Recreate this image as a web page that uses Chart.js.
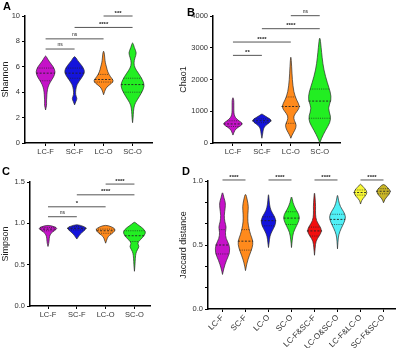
<!DOCTYPE html>
<html lang="en">
<head>
<meta charset="UTF-8">
<title>Alpha / beta diversity violins</title>
<script src="https://cdn.jsdelivr.net/npm/chart.js"></script>
<style>
    body { margin: 0; background: #fff; }
    #fig { position: relative; width: 400px; height: 348px; overflow: hidden; }
    canvas { position: absolute; }
    .letter { position: absolute; font: bold 11px "Liberation Sans", Arial, sans-serif; color: #000; }
</style>
</head>
<body>
<div id="fig">
    <canvas id="chartA" width="200" height="174" style="left:0;top:0"></canvas>
    <canvas id="chartB" width="230" height="174" style="left:170px;top:0"></canvas>
    <canvas id="chartC" width="200" height="174" style="left:0;top:174px"></canvas>
    <canvas id="chartD" width="230" height="174" style="left:170px;top:174px"></canvas>
    <div class="letter" style="left:3px;top:0px">A</div>
    <div class="letter" style="left:187px;top:6px">B</div>
    <div class="letter" style="left:2px;top:165px">C</div>
    <div class="letter" style="left:182px;top:165px">D</div>
</div>

<script>
// ---- data ----
// each violin is a list of [value, half width in category units]
const groupCats = ['LC-F', 'SC-F', 'LC-O', 'SC-O'];
const groupColors = ['#C512C8', '#1414DC', '#FF8A1C', '#22EE22'];

const shannonTicks = [0, 2, 4, 6, 8, 10];
const shannonShapes = [
    [[2.6, 0], [3.0, 0.04], [3.2, 0.03], [3.6, 0.04], [4.0, 0.05], [4.4, 0.08], [4.8, 0.16], [5.2, 0.28], [5.6, 0.34], [6.0, 0.27], [6.4, 0.13], [6.7, 0.05], [6.9, 0]],
    [[3.0, 0], [3.3, 0.05], [3.5, 0.09], [3.8, 0.03], [4.2, 0.04], [4.6, 0.08], [5.0, 0.2], [5.4, 0.32], [5.7, 0.35], [6.1, 0.25], [6.5, 0.1], [6.9, 0]],
    [[3.8, 0], [4.1, 0.04], [4.4, 0.1], [4.7, 0.28], [4.9, 0.35], [5.2, 0.24], [5.6, 0.14], [6.0, 0.1], [6.3, 0.06], [6.7, 0.04], [7.0, 0.03], [7.3, 0]],
    [[1.6, 0], [2.0, 0.02], [2.5, 0.03], [3.0, 0.06], [3.4, 0.16], [3.9, 0.3], [4.5, 0.42], [5.0, 0.34], [5.5, 0.2], [5.9, 0.08], [6.3, 0.04], [6.7, 0.08], [7.1, 0.14], [7.5, 0.06], [8.0, 0]]
];
const shannonMedian = [5.5, 5.5, 5.0, 4.6];
const shannonQ1 = [4.9, 5.1, 4.8, 4.0];
const shannonQ3 = [5.9, 5.9, 5.4, 5.1];
const shannonSig = [[0, 1, 7.4, 'ns'], [0, 2, 8.2, 'ns'], [1, 3, 9.1, '****'], [2, 3, 10.0, '***']];

const chaoTicks = [0, 1000, 2000, 3000, 4000];
const chaoShapes = [
    [[250, 0], [350, 0.04], [450, 0.1], [550, 0.28], [620, 0.34], [700, 0.2], [800, 0.08], [900, 0.04], [1000, 0.03], [1200, 0.03], [1350, 0.03], [1450, 0]],
    [[150, 0], [300, 0.03], [450, 0.05], [550, 0.12], [650, 0.28], [720, 0.34], [800, 0.2], [880, 0.06], [920, 0]],
    [[150, 0], [250, 0.04], [400, 0.14], [560, 0.2], [700, 0.12], [850, 0.09], [1000, 0.22], [1150, 0.32], [1350, 0.2], [1600, 0.1], [2000, 0.05], [2400, 0.03], [2800, 0]],
    [[0, 0], [150, 0.06], [400, 0.2], [650, 0.36], [850, 0.38], [1100, 0.28], [1350, 0.4], [1600, 0.37], [1900, 0.26], [2300, 0.14], [2700, 0.08], [3000, 0.05], [3400, 0]]
];
const chaoMedian = [600, 700, 1150, 1320];
const chaoQ1 = [520, 640, 620, 780];
const chaoQ3 = [700, 760, 1450, 1700];
const chaoSig = [[0, 1, 2760, '**'], [0, 2, 3180, '****'], [1, 3, 3600, '****'], [2, 3, 4010, 'ns']];

const simpsonTicks = [0, 0.5, 1.0, 1.5];
const simpsonShapes = [
    [[0.72, 0], [0.76, 0.03], [0.8, 0.04], [0.84, 0.05], [0.88, 0.1], [0.91, 0.22], [0.94, 0.33], [0.96, 0.22], [0.98, 0]],
    [[0.81, 0], [0.84, 0.06], [0.87, 0.12], [0.9, 0.22], [0.94, 0.34], [0.96, 0.26], [0.99, 0]],
    [[0.76, 0], [0.8, 0.04], [0.84, 0.08], [0.87, 0.2], [0.9, 0.3], [0.93, 0.34], [0.96, 0.2], [0.98, 0]],
    [[0.42, 0], [0.5, 0.02], [0.58, 0.03], [0.64, 0.05], [0.68, 0.1], [0.72, 0.17], [0.76, 0.1], [0.8, 0.2], [0.85, 0.34], [0.9, 0.4], [0.95, 0.26], [0.99, 0.09], [1.02, 0]]
];
const simpsonMedian = [0.93, 0.94, 0.91, 0.85];
const simpsonQ1 = [0.91, 0.92, 0.88, 0.78];
const simpsonQ3 = [0.95, 0.96, 0.93, 0.91];
const simpsonSig = [[0, 1, 1.08, 'ns'], [0, 2, 1.2, '*'], [1, 3, 1.345, '****'], [2, 3, 1.475, '****']];

const jaccardCats = ['LC-F', 'SC-F', 'LC-O', 'SC-O', 'LC-F&SC-F', 'LC-O&SC-O', 'LC-F&LC-O', 'SC-F&SC-O'];
const jaccardColors = ['#C512C8', '#FF8A1C', '#1414DC', '#22EE22', '#F20F0F', '#50F0F6', '#F8F835', '#C9B526'];
const jaccardTicks = [0, 1 / 6, 2 / 6, 0.5, 4 / 6, 5 / 6, 1.0];
const jaccardShapes = [
    [[0.27, 0], [0.32, 0.06], [0.38, 0.17], [0.44, 0.32], [0.5, 0.3], [0.55, 0.15], [0.6, 0.12], [0.64, 0.17], [0.68, 0.1], [0.73, 0.07], [0.79, 0.12], [0.83, 0.13], [0.87, 0.06], [0.92, 0]],
    [[0.3, 0], [0.36, 0.06], [0.42, 0.17], [0.48, 0.3], [0.53, 0.33], [0.58, 0.22], [0.63, 0.15], [0.68, 0.1], [0.74, 0.1], [0.8, 0.13], [0.85, 0.08], [0.91, 0]],
    [[0.48, 0], [0.52, 0.03], [0.57, 0.06], [0.61, 0.16], [0.65, 0.28], [0.69, 0.33], [0.73, 0.24], [0.77, 0.1], [0.82, 0.04], [0.87, 0.02], [0.9, 0]],
    [[0.48, 0], [0.54, 0.03], [0.6, 0.08], [0.65, 0.22], [0.7, 0.35], [0.74, 0.32], [0.78, 0.18], [0.83, 0.06], [0.89, 0]],
    [[0.42, 0], [0.48, 0.03], [0.53, 0.06], [0.57, 0.2], [0.61, 0.33], [0.65, 0.22], [0.69, 0.08], [0.74, 0.04], [0.8, 0.05], [0.86, 0.03], [0.92, 0]],
    [[0.47, 0], [0.53, 0.02], [0.58, 0.05], [0.63, 0.16], [0.68, 0.3], [0.72, 0.36], [0.76, 0.27], [0.8, 0.12], [0.85, 0.04], [0.9, 0]],
    [[0.82, 0], [0.85, 0.04], [0.88, 0.2], [0.91, 0.3], [0.94, 0.2], [0.96, 0.08], [0.98, 0]],
    [[0.83, 0], [0.86, 0.06], [0.89, 0.22], [0.92, 0.32], [0.95, 0.18], [0.98, 0]]
];
const jaccardMedian = [0.5, 0.53, 0.69, 0.71, 0.61, 0.7, 0.91, 0.92];
const jaccardQ1 = [0.43, 0.46, 0.65, 0.66, 0.57, 0.66, 0.89, 0.9];
const jaccardQ3 = [0.62, 0.62, 0.72, 0.76, 0.64, 0.74, 0.93, 0.94];
const jaccardSig = [[0, 1, 1.008, '****'], [2, 3, 1.008, '****'], [4, 5, 1.008, '****'], [6, 7, 1.008, '****']];

// ---- drawing ----
const FONT = '"Liberation Sans", Arial, sans-serif';

function widthAt(shape, v) {
    for (let i = 0; i < shape.length - 1; i++) {
        const a = shape[i], b = shape[i + 1];
        if (v >= a[0] && v <= b[0]) {
            return a[1] + (b[1] - a[1]) * (v - a[0]) / (b[0] - a[0]);
        }
    }
    return 0;
}

function smoothPath(ctx, pts) {
    ctx.moveTo(pts[0][0], pts[0][1]);
    for (let i = 1; i < pts.length - 1; i++) {
        const mx = (pts[i][0] + pts[i + 1][0]) / 2;
        const my = (pts[i][1] + pts[i + 1][1]) / 2;
        ctx.quadraticCurveTo(pts[i][0], pts[i][1], mx, my);
    }
    const last = pts[pts.length - 1];
    ctx.lineTo(last[0], last[1]);
}

const violinPlugin = {
    id: 'violins',
    afterDatasetsDraw(chart) {
        const p = chart.options.plugins.violins;
        const ctx = chart.ctx;
        const x = chart.scales.x, y = chart.scales.y;
        ctx.save();

        p.shapes.forEach((shape, i) => {
            const cx = x.getPixelForValue(i);
            const unit = x.getPixelForValue(i + 1) - cx;
            const right = shape.map(s => [cx + s[1] * unit, y.getPixelForValue(s[0])]);
            const left = shape.slice(0, -1).reverse().map(s => [cx - s[1] * unit, y.getPixelForValue(s[0])]);
            ctx.beginPath();
            smoothPath(ctx, right.concat(left));
            ctx.closePath();
            ctx.fillStyle = p.colors[i];
            ctx.fill();
            ctx.strokeStyle = '#2a2a2a';
            ctx.lineWidth = 0.7;
            ctx.stroke();

            // median and quartiles
            const lines = [[p.median[i], [2, 1.5], 0.9], [p.q1[i], [1, 1.2], 0.7], [p.q3[i], [1, 1.2], 0.7]];
            lines.forEach(([v, dash, lw]) => {
                const w = widthAt(shape, v) * unit;
                const py = y.getPixelForValue(v);
                ctx.beginPath();
                ctx.setLineDash(dash);
                ctx.lineWidth = lw;
                ctx.strokeStyle = '#222';
                ctx.moveTo(cx - w, py);
                ctx.lineTo(cx + w, py);
                ctx.stroke();
            });
            ctx.setLineDash([]);
        });

        // significance brackets
        p.sig.forEach(([a, b, v, label]) => {
            const x1 = x.getPixelForValue(a), x2 = x.getPixelForValue(b);
            const py = y.getPixelForValue(v);
            ctx.beginPath();
            ctx.strokeStyle = '#555';
            ctx.lineWidth = 1;
            ctx.moveTo(x1, py);
            ctx.lineTo(x2, py);
            ctx.stroke();
            ctx.fillStyle = '#222';
            ctx.textAlign = 'center';
            ctx.textBaseline = 'bottom';
            ctx.font = label === 'ns' ? '5px ' + FONT : 'bold 6px ' + FONT;
            ctx.fillText(label, (x1 + x2) / 2, py - (label === 'ns' ? 1.5 : 0));
        });
        ctx.restore();
    }
};

function makePanel(id, p) {
    return new Chart(document.getElementById(id), {
        type: 'scatter',
        data: {
            datasets: [{ data: p.median.map((m, i) => ({ x: i, y: m })), pointRadius: 0 }]
        },
        options: {
            responsive: false,
            animation: false,
            devicePixelRatio: 1,
            layout: { padding: p.padding },
            plugins: { legend: { display: false }, tooltip: { enabled: false }, violins: p },
            scales: {
                x: {
                    type: 'linear',
                    min: p.xMin,
                    max: p.xMax,
                    afterBuildTicks: s => { s.ticks = p.cats.map((c, i) => ({ value: i })); },
                    afterFit: s => { s.height = p.xH; },
                    ticks: {
                        callback: v => p.cats[v],
                        autoSkip: false,
                        maxRotation: p.rot,
                        minRotation: p.rot,
                        padding: 1,
                        color: '#333',
                        font: { family: FONT, size: p.xFont }
                    },
                    grid: { drawOnChartArea: false, drawTicks: true, tickLength: 3, color: '#000', lineWidth: 1 },
                    border: { display: true, color: '#000', width: 1.5 }
                },
                y: {
                    type: 'linear',
                    min: p.yTicks[0],
                    max: p.yTicks[p.yTicks.length - 1],
                    afterBuildTicks: s => { s.ticks = p.yTicks.map(v => ({ value: v })); },
                    afterFit: s => { s.width = p.yW; },
                    ticks: {
                        callback: p.yFmt,
                        padding: 2,
                        color: '#333',
                        font: { family: FONT, size: 7.5 }
                    },
                    title: {
                        display: true,
                        text: p.yTitle,
                        color: '#222',
                        padding: { top: 0, bottom: 0 },
                        font: { family: FONT, size: 9 }
                    },
                    grid: { drawOnChartArea: false, drawTicks: true, tickLength: 3, color: '#000', lineWidth: 1 },
                    border: { display: true, color: '#000', width: 1.5 }
                }
            }
        },
        plugins: [violinPlugin]
    });
}

makePanel('chartA', {
    cats: groupCats, colors: groupColors, shapes: shannonShapes,
    median: shannonMedian, q1: shannonQ1, q3: shannonQ3, sig: shannonSig,
    yTicks: shannonTicks, yFmt: v => String(v), yTitle: 'Shannon',
    xMin: -0.71, xMax: 3.67, rot: 0, xFont: 7.5,
    padding: { left: 0, top: 16, right: 48, bottom: 0 }, yW: 25, xH: 31
});

makePanel('chartB', {
    cats: groupCats, colors: groupColors, shapes: chaoShapes,
    median: chaoMedian, q1: chaoQ1, q3: chaoQ3, sig: chaoSig,
    yTicks: chaoTicks, yFmt: v => String(v), yTitle: 'Chao1',
    xMin: -0.69, xMax: 3.7, rot: 0, xFont: 7.5,
    padding: { left: 8, top: 16, right: 60, bottom: 0 }, yW: 35, xH: 31
});

makePanel('chartC', {
    cats: groupCats, colors: groupColors, shapes: simpsonShapes,
    median: simpsonMedian, q1: simpsonQ1, q3: simpsonQ3, sig: simpsonSig,
    yTicks: simpsonTicks, yFmt: v => v.toFixed(1), yTitle: 'Simpson',
    xMin: -0.625, xMax: 3.54, rot: 0, xFont: 7.5,
    padding: { left: 0, top: 8, right: 50, bottom: 0 }, yW: 30, xH: 42
});

makePanel('chartD', {
    cats: jaccardCats, colors: jaccardColors, shapes: jaccardShapes,
    median: jaccardMedian, q1: jaccardQ1, q3: jaccardQ3, sig: jaccardSig,
    yTicks: jaccardTicks,
    yFmt: v => (Math.abs(v * 2 - Math.round(v * 2)) < 1e-6 ? v.toFixed(1) : ''),
    yTitle: 'Jaccard distance',
    xMin: -0.63, xMax: 7.5, rot: 45, xFont: 8,
    padding: { left: 8, top: 7, right: 5, bottom: 0 }, yW: 30, xH: 39
});
</script>
</body>
</html>
